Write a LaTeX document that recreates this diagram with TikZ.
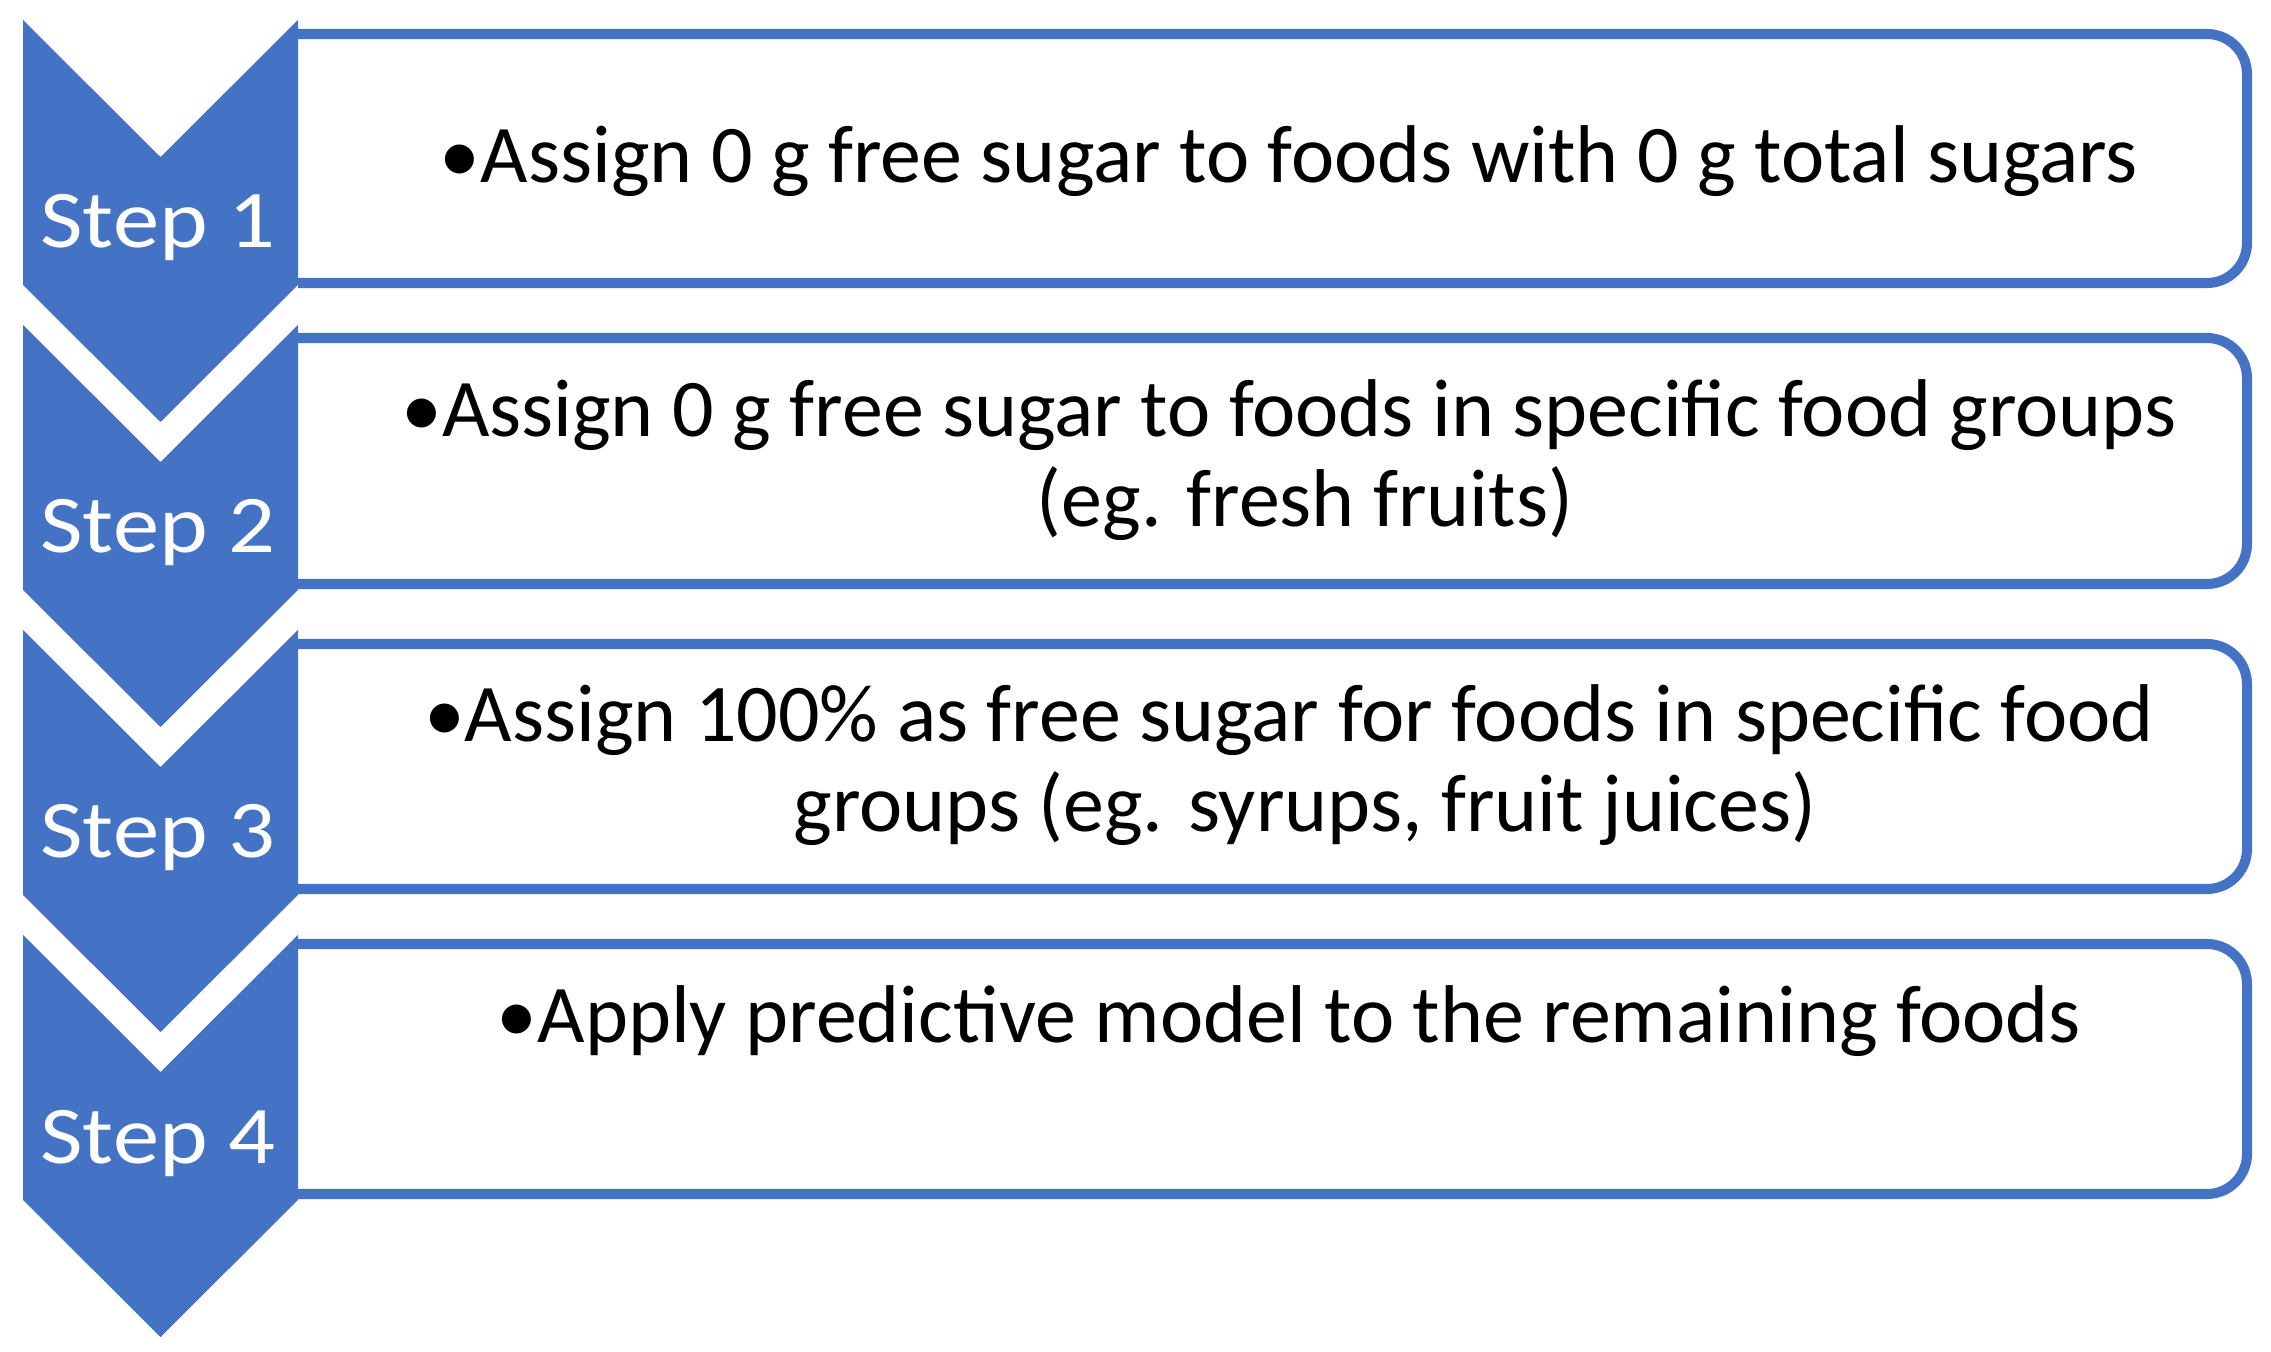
\documentclass[tikz,border=0pt]{standalone}
\usepackage{fontspec}
\setmainfont{Carlito}
\newfontfamily\bodyfont{Carlito}
\newfontfamily\stepfont[FakeStretch=1.13]{Carlito}
\definecolor{stepblue}{HTML}{4472C4}

\begin{document}
\begin{tikzpicture}[x=0.01cm, y=-0.01cm,
    chevron/.style={fill=stepblue},
    stepbox/.style={draw=stepblue, line width=2.85pt, rounded corners=0.4cm},
    steplabel/.style={text=white, font=\stepfont\fontsize{23.3}{25.3}\selectfont, anchor=base, inner sep=0pt},
    boxtext/.style={font=\bodyfont\fontsize{23.3}{25.6}\selectfont, align=center, anchor=base, inner sep=0pt}]
    \useasboundingbox (0,0) rectangle (2271,1352);
    % text boxes, open on the left side
    \draw[stepbox] (298,34) -- (2247,34) -- (2247,283) -- (298,283);
    \draw[stepbox] (298,338) -- (2247,338) -- (2247,584) -- (298,584);
    \draw[stepbox] (298,644) -- (2247,644) -- (2247,889) -- (298,889);
    \draw[stepbox] (298,944) -- (2247,944) -- (2247,1194) -- (298,1194);
    % chevrons
    \fill[chevron] (23,20) -- (160.5,157) -- (298,20) -- (298,285) -- (160.5,422) -- (23,285) -- cycle;
    \fill[chevron] (23,325) -- (160.5,462) -- (298,325) -- (298,590) -- (160.5,727) -- (23,590) -- cycle;
    \fill[chevron] (23,630) -- (160.5,767) -- (298,630) -- (298,895) -- (160.5,1032) -- (23,895) -- cycle;
    \fill[chevron] (23,935) -- (160.5,1072) -- (298,935) -- (298,1200) -- (160.5,1337) -- (23,1200) -- cycle;
    % labels
    \node[steplabel] (step1) at (158,248) {Step 1};
    \node[steplabel] (step2) at (158,553) {Step 2};
    \node[steplabel] (step3) at (158,858) {Step 3};
    \node[steplabel] (step4) at (158,1163) {Step 4};
    % base of a two-line node is the last line
    \node[boxtext] (txt1) at (1289,183) {•Assign 0 g free sugar to foods with 0 g total sugars};
    \node[boxtext] (txt2) at (1289,527) {•Assign 0 g free sugar to foods in specific food groups\\\hspace*{0.32cm}(eg. fresh fruits)};
    \node[boxtext] (txt3) at (1289,832) {•Assign 100\% as free sugar for foods in specific food\\\hspace*{0.32cm}groups (eg. syrups, fruit juices)};
    \node[boxtext] (txt4) at (1289,1043) {•Apply predictive model to the remaining foods};
\end{tikzpicture}
\end{document}
